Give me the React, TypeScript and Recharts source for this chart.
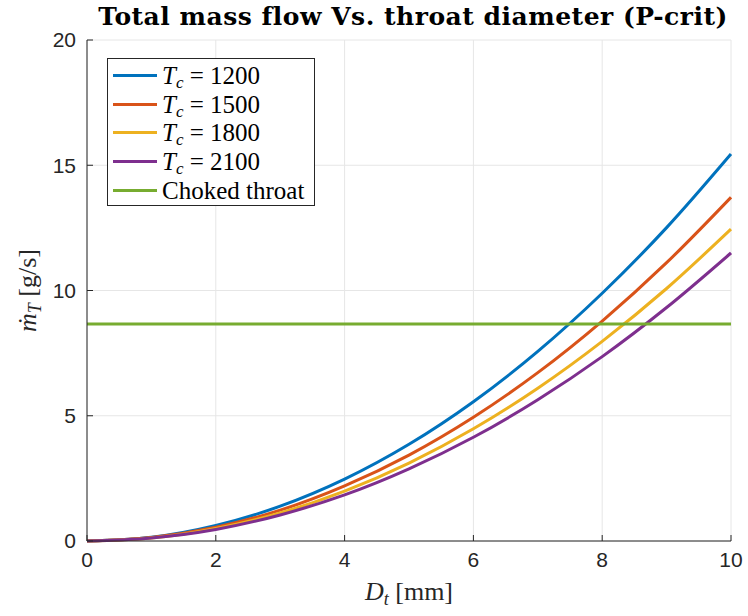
import React from 'react';
import { LineChart, Line, XAxis, YAxis, CartesianGrid, Legend } from 'recharts';

// throat diameter [mm]
const diameters = [0, 1, 2, 3, 4, 5, 6, 7, 8, 9, 10];

// total mass flow [g/s] per chamber temperature
const mdot1200 = [0, 0.15, 0.62, 1.39, 2.47, 3.86, 5.56, 7.57, 9.89, 12.51, 15.45];
const mdot1500 = [0, 0.14, 0.55, 1.23, 2.2, 3.43, 4.94, 6.72, 8.78, 11.11, 13.72];
const mdot1800 = [0, 0.12, 0.5, 1.12, 1.99, 3.11, 4.48, 6.1, 7.97, 10.08, 12.45];
const mdot2100 = [0, 0.12, 0.46, 1.04, 1.84, 2.88, 4.14, 5.64, 7.36, 9.32, 11.5];
const chokedFlow = 8.66;

const temps = [1200, 1500, 1800, 2100];
const colors = ['#0072BD', '#D95319', '#EDB120', '#7E2F8E'];
const chokedColor = '#77AC30';

const xTicks = [0, 2, 4, 6, 8, 10];
const yTicks = [0, 5, 10, 15, 20];

const data = diameters.map((d, i) => ({
  d,
  t1200: mdot1200[i],
  t1500: mdot1500[i],
  t1800: mdot1800[i],
  t2100: mdot2100[i],
  choked: chokedFlow,
}));

const axisColor = '#262626';
const serif = '"Liberation Serif", "DejaVu Serif", serif';
const sans = '"Liberation Sans", Arial, sans-serif';
const tickStyle = { fill: axisColor, fontSize: 21, fontFamily: sans };

const XLabel = ({ viewBox }: any) => {
  const cx = viewBox.x + viewBox.width / 2;
  return (
    <text x={cx} y={600} textAnchor="middle" fontFamily={serif} fontSize={26} fill={axisColor}>
      <tspan fontStyle="italic">D</tspan>
      <tspan fontStyle="italic" fontSize={18} dy={5}>t</tspan>
      <tspan dy={-5}> [mm]</tspan>
    </text>
  );
};

const YLabel = ({ viewBox }: any) => {
  const cy = viewBox.y + viewBox.height / 2;
  const x = 36;
  return (
    <text x={x} y={cy} textAnchor="middle" fontFamily={serif} fontSize={26} fill={axisColor}
      transform={`rotate(-90 ${x} ${cy})`}>
      <tspan fontStyle="italic">m&#x307;</tspan>
      <tspan fontStyle="italic" fontSize={18} dy={5}>T</tspan>
      <tspan dy={-5}> [g/s]</tspan>
    </text>
  );
};

const LegendBox = () => {
  const rows = [
    ...temps.map((t, i) => ({ color: colors[i], t, text: null as string | null })),
    { color: chokedColor, t: 0, text: 'Choked throat' },
  ];
  return (
    <div style={{ border: '1px solid #262626', background: '#fff', padding: '2px 8px 1px 5px', width: 193 }}>
      {rows.map((r, i) => (
        <div key={i} style={{ display: 'flex', alignItems: 'center', height: 28.7 }}>
          <div style={{ width: 44, height: 3, background: r.color, marginRight: 5, flex: 'none' }} />
          <span style={{ fontFamily: serif, fontSize: 25, color: '#000', whiteSpace: 'nowrap', lineHeight: '25px' }}>
            {r.text ? r.text : (
              <>
                <i>T</i><sub style={{ fontSize: 17, verticalAlign: '-4px', lineHeight: 0 }}><i>c</i></sub> = {r.t}
              </>
            )}
          </span>
        </div>
      ))}
    </div>
  );
};

export default function App() {
  const keys = ['t1200', 't1500', 't1800', 't2100'];
  return (
    <div style={{ position: 'absolute', left: 0, top: 0, width: 748, height: 616, background: '#fff' }}>
      <div style={{
        position: 'absolute', top: 2, left: 87, width: 652, textAlign: 'center', letterSpacing: 0.5,
        fontFamily: '"DejaVu Serif", serif', fontWeight: 'bold', fontSize: 25, color: '#000', whiteSpace: 'nowrap',
      }}>
        Total mass flow Vs. throat diameter (P-crit)
      </div>
      <LineChart width={748} height={616} data={data}
        margin={{ top: 40, right: 17, bottom: 45, left: 37 }}>
        <CartesianGrid stroke="#e6e6e6" strokeWidth={1} />
        <XAxis dataKey="d" type="number" domain={[0, 10]} ticks={xTicks} height={30}
          stroke={axisColor} tickSize={-6} tickMargin={17} tick={tickStyle}
          label={<XLabel />} />
        <XAxis xAxisId="top" orientation="top" dataKey="d" type="number" domain={[0, 10]} ticks={xTicks}
          height={0} mirror stroke={axisColor} tick={false} tickSize={6} />
        <YAxis type="number" domain={[0, 20]} ticks={yTicks} width={50}
          stroke={axisColor} tickSize={-6} tickMargin={17} tick={tickStyle}
          label={<YLabel />} />
        <YAxis yAxisId="right" orientation="right" type="number" domain={[0, 20]} ticks={yTicks}
          width={0} mirror stroke={axisColor} tick={false} tickSize={6} />
        {keys.map((k, i) => (
          <Line key={k} dataKey={k} type="monotone" stroke={colors[i]} strokeWidth={3}
            dot={false} isAnimationActive={false} name={`Tc = ${temps[i]}`} />
        ))}
        <Line dataKey="choked" type="linear" stroke={chokedColor} strokeWidth={3}
          dot={false} isAnimationActive={false} name="Choked throat" />
        <Legend layout="horizontal" align="center" verticalAlign="middle" content={<LegendBox />}
          wrapperStyle={{ left: 107, top: 58, width: 'auto' }} />
      </LineChart>
    </div>
  );
}
